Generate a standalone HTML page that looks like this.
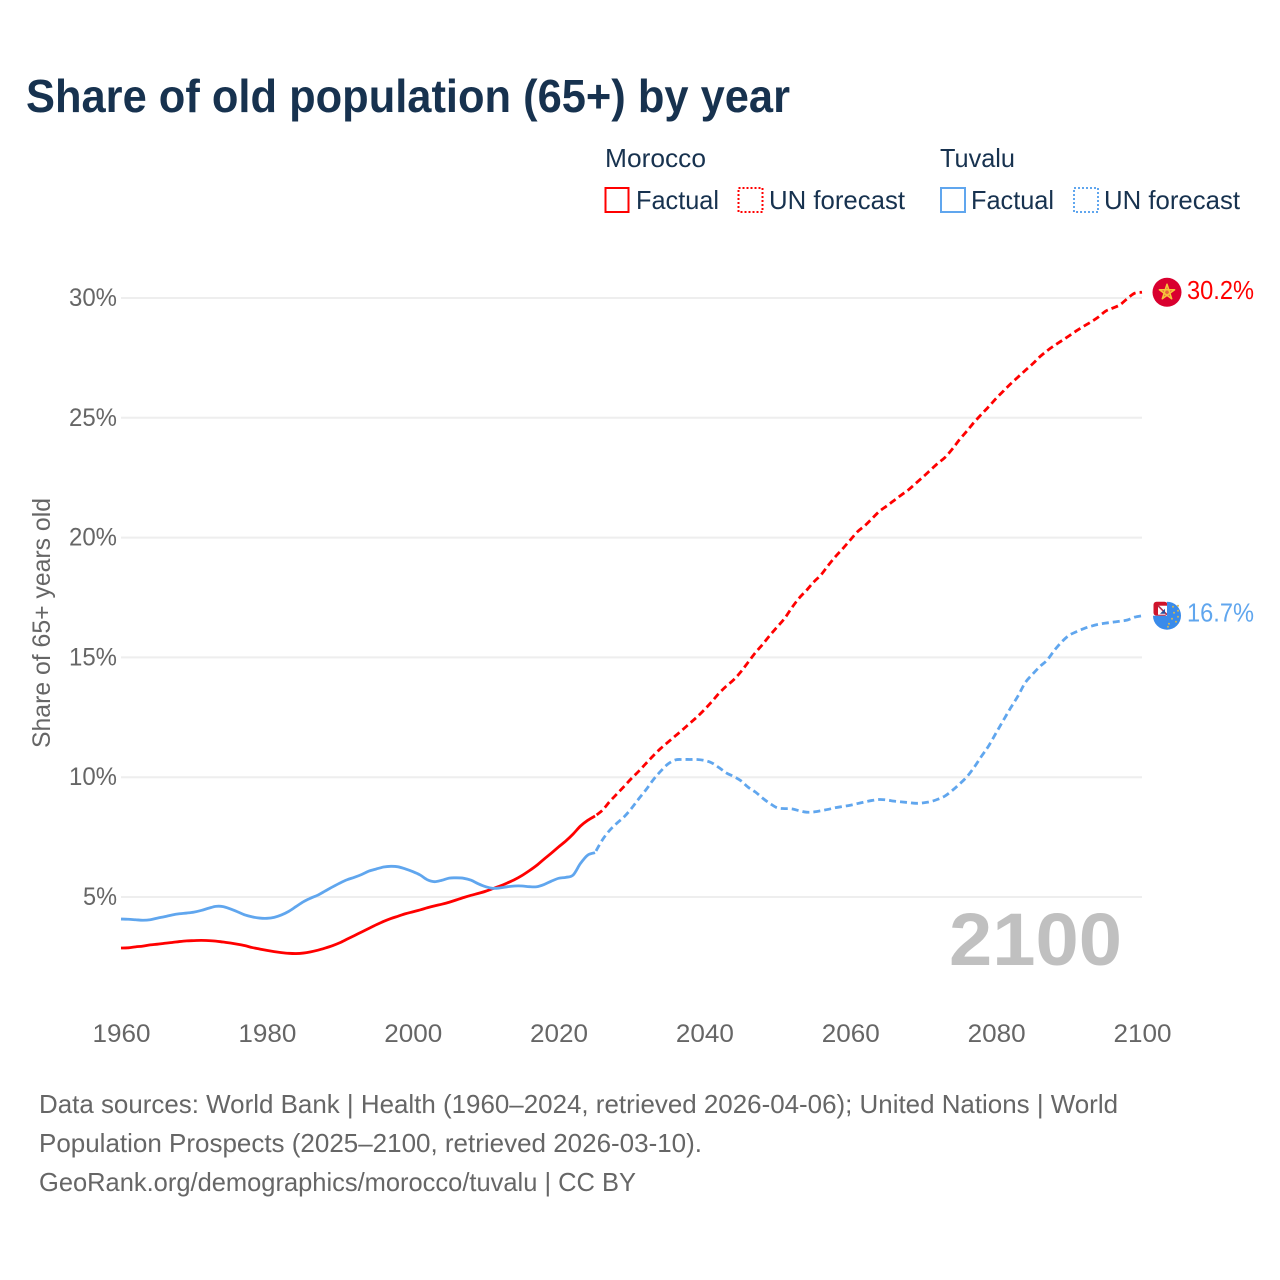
<!DOCTYPE html>
<html lang="en">
<head>
<meta charset="utf-8">
<title>Share of old population (65+) by year</title>
<style>
html,body{margin:0;padding:0;background:#fff;width:1280px;height:1280px;overflow:hidden}
svg{display:block;font-family:"Liberation Sans",sans-serif}
</style>
</head>
<body>
<svg id="chart" width="1280" height="1280" viewBox="0 0 1280 1280" xmlns="http://www.w3.org/2000/svg">
  <text x="26" y="112" font-size="46" font-weight="700" fill="#17324f" textLength="764" lengthAdjust="spacingAndGlyphs">Share of old population (65+) by year</text>

  <g font-size="26" fill="#17324f">
    <text x="605" y="167" textLength="101" lengthAdjust="spacingAndGlyphs">Morocco</text>
    <rect x="605.5" y="188" width="23" height="24" fill="none" stroke="#ff0000" stroke-width="2"/>
    <text x="636" y="209" textLength="83" lengthAdjust="spacingAndGlyphs">Factual</text>
    <rect x="738.5" y="188" width="24" height="24" fill="none" stroke="#ff0000" stroke-width="2" stroke-dasharray="2 2"/>
    <text x="769" y="209" textLength="136" lengthAdjust="spacingAndGlyphs">UN forecast</text>
    <text x="940" y="167" textLength="75" lengthAdjust="spacingAndGlyphs">Tuvalu</text>
    <rect x="941" y="188" width="24" height="24" fill="none" stroke="#60a6ee" stroke-width="2"/>
    <text x="971" y="209" textLength="83" lengthAdjust="spacingAndGlyphs">Factual</text>
    <rect x="1074" y="188" width="24" height="24" fill="none" stroke="#60a6ee" stroke-width="2" stroke-dasharray="2 2"/>
    <text x="1104" y="209" textLength="136" lengthAdjust="spacingAndGlyphs">UN forecast</text>
  </g>

  <g id="grid"></g>
  <g id="y-axis"></g>
  <g id="x-axis"></g>
  <text transform="translate(50,748) rotate(-90)" font-size="25" fill="#666666" textLength="250" lengthAdjust="spacingAndGlyphs">Share of 65+ years old</text>
  <text x="949" y="965" font-size="74" font-weight="700" fill="#c0c0c0" textLength="173" lengthAdjust="spacingAndGlyphs">2100</text>

  <g id="series"></g>

  <g id="flag-tuvalu">
    <rect x="-13.5" y="-14" width="14" height="14" rx="3" fill="#cf142b"/>
    <rect x="-9" y="-10" width="9" height="9" fill="#ffffff"/>
    <path d="M-9-10L0-1" stroke="#b03050" stroke-width="1.6"/>
    <path d="M-7-2L-2-2L-2-7Z" fill="#2a4f9a"/>
    <path d="M0-14A14 14 0 1 1-14 0L0 0Z" fill="#3a8bea"/>
    <g fill="#d8b84e">
      <circle cx="6" cy="-9" r="1"/><circle cx="11" cy="-10" r="1"/><circle cx="11" cy="-5" r="1"/><circle cx="7" cy="-3" r="1"/><circle cx="11" cy="1" r="1"/><circle cx="5" cy="3" r="1"/><circle cx="9" cy="6" r="1"/><circle cx="2" cy="8" r="1"/><circle cx="1" cy="11" r="1"/>
    </g>
  </g>
  <g id="flag-morocco">
    <circle cx="0" cy="0" r="14.5" fill="#d9002f"/>
    <polygon points="0,-8 4.7,6.5 -7.6,-2.5 7.6,-2.5 -4.7,6.5" fill="#f2b84a" fill-opacity="0.55" stroke="#f5c53a" stroke-width="1.5" stroke-linejoin="round"/>
  </g>
  <text id="label-morocco" x="1187" font-size="26" fill="#ff0000" textLength="67" lengthAdjust="spacingAndGlyphs"></text>
  <text id="label-tuvalu" x="1187" font-size="26" fill="#60a6ee" textLength="67" lengthAdjust="spacingAndGlyphs"></text>

  <g font-size="26" fill="#666666">
    <text x="39" y="1113" textLength="1079" lengthAdjust="spacingAndGlyphs">Data sources: World Bank | Health (1960–2024, retrieved 2026-04-06); United Nations | World</text>
    <text x="39" y="1152" textLength="663" lengthAdjust="spacingAndGlyphs">Population Prospects (2025–2100, retrieved 2026-03-10).</text>
    <text x="39" y="1191" textLength="597" lengthAdjust="spacingAndGlyphs">GeoRank.org/demographics/morocco/tuvalu | CC BY</text>
  </g>
</svg>
<script>
const yTickValues = [5, 10, 15, 20, 25, 30];
const xTickYears = [1960, 1980, 2000, 2020, 2040, 2060, 2080, 2100];
const factualStartYear = 1960;
const forecastStartYear = 2025;
const moroccoFactual = [
  2.87,2.88,2.92,2.95,3.00,3.03,3.07,3.10,3.14,3.17,
  3.18,3.19,3.18,3.16,3.12,3.08,3.03,2.97,2.89,2.83,
  2.77,2.72,2.68,2.65,2.64,2.66,2.71,2.78,2.87,2.97,
  3.09,3.24,3.39,3.54,3.69,3.84,3.98,4.10,4.20,4.30,
  4.38,4.46,4.55,4.63,4.70,4.78,4.88,4.98,5.07,5.15,
  5.24,5.35,5.46,5.59,5.73,5.90,6.10,6.32,6.58,6.83,
  7.09,7.34,7.63,7.96,8.20,8.38
];
const moroccoForecast = [
  8.38,8.62,8.98,9.30,9.62,9.95,10.25,10.58,10.90,11.20,
  11.46,11.72,11.98,12.25,12.52,12.82,13.15,13.50,13.80,14.06,
  14.40,14.80,15.20,15.55,15.93,16.28,16.63,17.08,17.48,17.80,
  18.15,18.45,18.85,19.22,19.55,19.90,20.25,20.50,20.80,21.10,
  21.32,21.55,21.78,22.00,22.27,22.54,22.82,23.10,23.35,23.70,
  24.10,24.45,24.82,25.15,25.47,25.81,26.12,26.42,26.70,26.98,
  27.25,27.55,27.80,28.02,28.22,28.42,28.63,28.82,29.00,29.20,
  29.45,29.58,29.72,29.98,30.20,30.24
];
const tuvaluFactual = [
  4.08,4.07,4.05,4.03,4.05,4.12,4.18,4.25,4.30,4.33,
  4.37,4.44,4.53,4.61,4.60,4.50,4.38,4.25,4.17,4.12,
  4.11,4.15,4.25,4.40,4.60,4.80,4.95,5.08,5.25,5.42,
  5.58,5.72,5.82,5.94,6.08,6.17,6.25,6.28,6.26,6.17,
  6.06,5.92,5.72,5.64,5.70,5.79,5.80,5.78,5.70,5.55,
  5.43,5.36,5.38,5.43,5.46,5.46,5.43,5.43,5.52,5.66,
  5.78,5.82,5.92,6.40,6.75,6.85
];
const tuvaluForecast = [
  6.85,7.38,7.78,8.08,8.35,8.70,9.10,9.48,9.90,10.25,
  10.55,10.72,10.74,10.74,10.74,10.70,10.60,10.40,10.18,10.03,
  9.85,9.58,9.38,9.12,8.90,8.72,8.69,8.68,8.60,8.54,
  8.55,8.60,8.66,8.73,8.78,8.83,8.90,8.97,9.03,9.07,
  9.05,9.00,8.97,8.94,8.91,8.93,8.98,9.08,9.22,9.45,
  9.72,10.02,10.42,10.88,11.32,11.85,12.38,12.90,13.39,13.95,
  14.30,14.62,14.89,15.30,15.65,15.92,16.07,16.20,16.30,16.38,
  16.43,16.47,16.51,16.56,16.68,16.74
];

const SVG_NS = 'http://www.w3.org/2000/svg';
function xScale(year) { return 121 + (year - 1960) * (1142 - 121) / 140; }
function yScale(v) { return 897 - (v - 5) * (897 - 298) / 25; }

function linePath(values, startYear) {
  const pts = values.map(function (v, i) { return [xScale(startYear + i), yScale(v)]; });
  let d = 'M' + pts[0][0].toFixed(2) + ' ' + pts[0][1].toFixed(2);
  for (let i = 0; i < pts.length - 1; i++) {
    const p0 = pts[Math.max(0, i - 1)];
    const p1 = pts[i];
    const p2 = pts[i + 1];
    const p3 = pts[Math.min(pts.length - 1, i + 2)];
    d += 'C' + (p1[0] + (p2[0] - p0[0]) / 6).toFixed(2) + ' ' + (p1[1] + (p2[1] - p0[1]) / 6).toFixed(2) +
         ' ' + (p2[0] - (p3[0] - p1[0]) / 6).toFixed(2) + ' ' + (p2[1] - (p3[1] - p1[1]) / 6).toFixed(2) +
         ' ' + p2[0].toFixed(2) + ' ' + p2[1].toFixed(2);
  }
  return d;
}

const gridGroup = document.getElementById('grid');
const yGroup = document.getElementById('y-axis');
const xGroup = document.getElementById('x-axis');
const seriesGroup = document.getElementById('series');

yTickValues.forEach(function (v) {
  const line = document.createElementNS(SVG_NS, 'line');
  
  
  line.setAttribute('x1', 121);
  line.setAttribute('x2', 1142);
  line.setAttribute('y1', yScale(v));
  line.setAttribute('y2', yScale(v));
  line.setAttribute('stroke', '#eeeeee');
  line.setAttribute('stroke-width', 2);
  gridGroup.appendChild(line);

  const label = document.createElementNS(SVG_NS, 'text');
  
  
  const w = v < 10 ? 34 : 48;
  label.setAttribute('x', 117 - w);
  label.setAttribute('y', yScale(v) + 8);
  label.setAttribute('font-size', 25);
  label.setAttribute('fill', '#666666');
  label.setAttribute('textLength', w);
  label.setAttribute('lengthAdjust', 'spacingAndGlyphs');
  label.textContent = v + '%';
  yGroup.appendChild(label);
});

xTickYears.forEach(function (year) {
  const label = document.createElementNS(SVG_NS, 'text');
  
  
  label.setAttribute('x', xScale(year) - 28.5);
  label.setAttribute('y', 1042);
  label.setAttribute('font-size', 25);
  label.setAttribute('fill', '#666666');
  label.setAttribute('textLength', 58);
  label.setAttribute('lengthAdjust', 'spacingAndGlyphs');
  label.textContent = year;
  xGroup.appendChild(label);
});

function addLine(values, startYear, color, dashed, name) {
  const p = document.createElementNS(SVG_NS, 'path');
  
  
  p.setAttribute('d', linePath(values, startYear));
  p.setAttribute('fill', 'none');
  p.setAttribute('stroke', color);
  p.setAttribute('stroke-width', 2.8);
  p.setAttribute('stroke-linejoin', 'round');
  if (dashed) {
    p.setAttribute('stroke-dasharray', '7 4');
    p.setAttribute('stroke-dashoffset', '9');
  }
  seriesGroup.appendChild(p);
}
addLine(moroccoFactual, factualStartYear, '#ff0000', false, 'morocco-factual-line');
addLine(tuvaluFactual, factualStartYear, '#60a6ee', false, 'tuvalu-factual-line');
addLine(moroccoForecast, forecastStartYear, '#ff0000', true, 'morocco-forecast-line');
addLine(tuvaluForecast, forecastStartYear, '#60a6ee', true, 'tuvalu-forecast-line');

const moroccoLast = moroccoForecast[moroccoForecast.length - 1];
const tuvaluLast = tuvaluForecast[tuvaluForecast.length - 1];
document.getElementById('flag-morocco').setAttribute('transform', 'translate(1167,' + yScale(moroccoLast) + ')');
document.getElementById('flag-tuvalu').setAttribute('transform', 'translate(1167,' + yScale(tuvaluLast) + ')');
const labelMorocco = document.getElementById('label-morocco');
labelMorocco.setAttribute('y', yScale(moroccoLast) + 7);
labelMorocco.textContent = moroccoLast.toFixed(1) + '%';
const labelTuvalu = document.getElementById('label-tuvalu');
labelTuvalu.setAttribute('y', yScale(tuvaluLast) + 6);
labelTuvalu.textContent = tuvaluLast.toFixed(1) + '%';
</script>
</body>
</html>
